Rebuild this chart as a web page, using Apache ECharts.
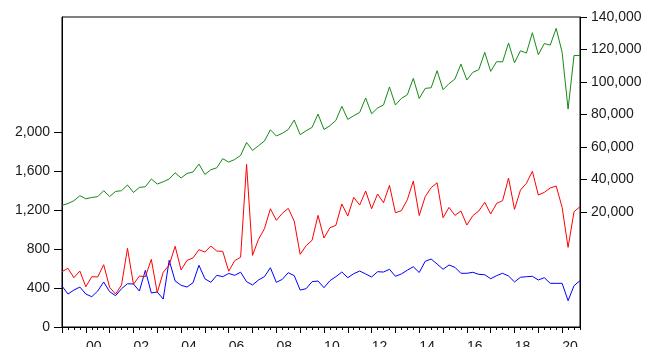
<!DOCTYPE html>
<html><head><meta charset="utf-8">
<script src="https://cdn.jsdelivr.net/npm/echarts@6/dist/echarts.min.js"></script>
<style>html,body{margin:0;padding:0;background:#fff}#c{width:648px;height:347px}</style>
</head><body><div id="c"></div>
<script>
const years = [1999,2000,2001,2002,2003,2004,2005,2006,2007,2008,2009,2010,2011,2012,2013,2014,2015,2016,2017,2018,2019,2020];
const quarters = ['Q1','Q2','Q3','Q4'];
const categories = [];
years.forEach(y => quarters.forEach(q => categories.push(y + q)));

// right axis series (green)
const greenSeries = [23900,25100,26800,29900,28000,28800,29300,33000,29400,32500,
  33000,36500,31900,35000,35400,40200,37100,38500,40200,44000,
  40800,43600,44500,49400,43000,45900,47100,52700,50600,52200,
  54700,62700,57800,60700,63600,70500,66700,68300,70700,76500,
  67500,69900,72000,80200,70700,73000,76300,85000,76900,79200,
  81200,90100,80400,83900,85800,96900,85800,89800,92100,102200,
  89800,96000,96400,106900,95200,98900,101800,111000,101200,105900,
  107500,118200,106500,112500,112300,124000,111800,119200,117800,130300,
  116800,123600,122700,133000,118200,83300,116300,116300];

// left axis series
const redSeries = [567,602,506,574,413,516,513,639,407,338,
  431,807,438,523,516,694,352,561,636,828,
  585,684,708,793,769,831,779,776,572,680,
  716,1669,735,899,1008,1213,1094,1166,1217,1087,
  745,834,889,1145,913,1018,1043,1262,1138,1330,
  1251,1395,1213,1364,1275,1453,1172,1193,1306,1497,
  1143,1337,1429,1480,1121,1227,1145,1190,1046,1142,
  1190,1279,1159,1268,1296,1528,1207,1405,1474,1597,
  1354,1381,1426,1446,1227,817,1183,1234];

const blueSeries = [420,338,379,410,338,311,369,462,362,321,
  393,444,441,369,581,349,359,287,684,472,
  428,410,454,633,495,458,530,516,549,530,
  562,465,431,482,516,608,458,489,557,527,
  379,393,465,472,403,475,516,564,506,547,
  574,544,513,567,564,592,520,544,583,618,
  559,674,697,646,592,636,612,551,551,561,
  540,536,495,527,551,523,462,510,516,520,
  482,506,448,448,448,270,424,475];

const leftTicks = [0,400,800,1200,1600,2000];
const rightTicks = [20000,40000,60000,80000,100000,120000,140000];

const fmt = v => Number(v).toLocaleString('en-US');
const txt = {color:'#1a1a1a', fontFamily:'Liberation Sans, Arial, sans-serif', fontSize:14};

const chart = echarts.init(document.getElementById('c'), null, {renderer:'canvas'});
chart.setOption({
  animation:false,
  backgroundColor:'#fff',
  grid:{left:62, right:68, top:17, bottom:20, containLabel:false, outerBoundsMode:'none',
        show:true, borderColor:'#000', borderWidth:1, backgroundColor:'transparent'},
  xAxis:[{
    type:'category', data:categories, boundaryGap:false, position:'bottom',
    axisLine:{onZero:false, lineStyle:{color:'#000', width:1}},
    axisTick:{show:true, interval:0, length:3, lineStyle:{color:'#000'}},
    axisLabel:Object.assign({
      interval:(idx) => idx % 8 === 6,
      formatter:(v) => v.slice(2,4),
      margin:13, padding:[0,8,0,0]
    }, txt),
    splitLine:{show:false}
  },{
    type:'category', data:categories, boundaryGap:false, position:'bottom',
    axisLine:{show:false, onZero:false},
    axisTick:{show:true, interval:3, length:6, lineStyle:{color:'#000'}},
    axisLabel:{show:false},
    splitLine:{show:false}
  }],
  yAxis:[{
    type:'value', position:'left', min:0, max:3180, interval:400,
    axisLine:{show:true, onZero:false, lineStyle:{color:'#000'}},
    axisTick:{show:true, length:8, customValues:leftTicks, lineStyle:{color:'#000'}},
    axisLabel:Object.assign({customValues:leftTicks, formatter:fmt, margin:12}, txt),
    splitLine:{show:false}
  },{
    type:'value', position:'right', min:-51000, max:140000,
    axisLine:{show:true, onZero:false, lineStyle:{color:'#000'}},
    axisTick:{show:true, length:7, customValues:rightTicks, lineStyle:{color:'#000'}},
    axisLabel:Object.assign({customValues:rightTicks, formatter:fmt, margin:11}, txt),
    splitLine:{show:false}
  }],
  series:[
    {type:'line', name:'blue', data:blueSeries, xAxisIndex:0, yAxisIndex:0, symbol:'none',
     lineStyle:{color:'#0000ff', width:1}, itemStyle:{color:'#0000ff'}},
    {type:'line', name:'red', data:redSeries, xAxisIndex:0, yAxisIndex:0, symbol:'none',
     lineStyle:{color:'#ff0000', width:1}, itemStyle:{color:'#ff0000'}},
    {type:'line', name:'green', data:greenSeries, xAxisIndex:0, yAxisIndex:1, symbol:'none',
     lineStyle:{color:'#168a16', width:1}, itemStyle:{color:'#168a16'}}
  ]
});
</script></body></html>
